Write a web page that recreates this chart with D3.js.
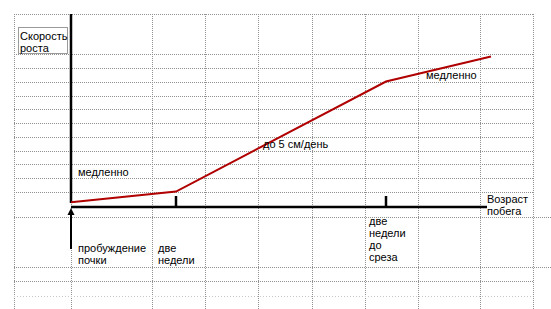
<!DOCTYPE html>
<html>
<head>
<meta charset="utf-8">
<script src="https://cdn.jsdelivr.net/npm/d3@7"></script>
<style>
  body { margin: 0; background: #fff; }
  svg { display: block; }
  text { font-family: Arial, "Liberation Sans", sans-serif; font-size: 11px; fill: #000; }
</style>
</head>
<body>
<svg id="chart" width="551" height="309"></svg>
<script>
// shoot age in weeks, growth rate (arbitrary units)
const weeks = [0, 2, 6, 8];
const growthRate = [0.25, 0.8, 6.5, 7.8];
const tickWeeks = [2, 6];
const tickLabels = [
  ["пробуждение", "почки"],
  ["две", "недели"],
  ["две", "недели", "до", "среза"],
];
const labelWeeks = [0, 2, 6];

// spreadsheet cell edges behind the sketch
const colEdges = [14, 71, 152, 205, 258, 312, 365, 418, 480, 533];
const rowEdges = [14, 54, 68, 82, 96, 109, 123, 137, 151, 164, 178, 192, 217, 267, 281];
const wideRows = [217, 267];

const svg = d3.select("#chart");

const x = d3.scaleLinear().domain([0, 8]).range([71, 491]);
const y = d3.scaleLinear().domain([0, 10]).range([207, 14]);

const grid = svg.append("g").attr("class", "grid");

grid
  .selectAll("line.col")
  .data(colEdges)
  .join("line")
  .attr("class", "col")
  .attr("x1", (d) => d)
  .attr("x2", (d) => d)
  .attr("y1", 14)
  .attr("y2", 309)
  .attr("stroke", "#909090")
  .attr("stroke-dasharray", "1,1")
  .attr("shape-rendering", "crispEdges");

grid
  .selectAll("line.row")
  .data(rowEdges)
  .join("line")
  .attr("class", "row")
  .attr("x1", 14)
  .attr("x2", (d) => (wideRows.includes(d) ? 551 : 533))
  .attr("y1", (d) => d + 0.5)
  .attr("y2", (d) => d + 0.5)
  .attr("stroke", "#909090")
  .attr("stroke-dasharray", "1,1")
  .attr("shape-rendering", "crispEdges");

// faint half-drawn row near the bottom
grid
  .append("line")
  .attr("x1", 14)
  .attr("x2", 533)
  .attr("y1", 296.5)
  .attr("y2", 296.5)
  .attr("stroke", "#c8c8c8")
  .attr("stroke-dasharray", "1,2")
  .attr("shape-rendering", "crispEdges");

// y axis
svg
  .append("line")
  .attr("x1", x(0))
  .attr("x2", x(0))
  .attr("y1", 14)
  .attr("y2", 203)
  .attr("stroke", "#000")
  .attr("stroke-width", 2.5);

// x axis
svg
  .append("line")
  .attr("x1", x(0))
  .attr("x2", 487)
  .attr("y1", y(0))
  .attr("y2", y(0))
  .attr("stroke", "#000")
  .attr("stroke-width", 2.5);

// arrow pointing at the origin
svg
  .append("line")
  .attr("x1", x(0))
  .attr("x2", x(0))
  .attr("y1", 249)
  .attr("y2", 212)
  .attr("stroke", "#000")
  .attr("stroke-width", 2);

svg
  .append("path")
  .attr("d", `M${x(0)},${y(0) + 1}L${x(0) - 3.5},${y(0) + 8}L${x(0) + 3.5},${y(0) + 8}Z`)
  .attr("fill", "#000");

svg
  .selectAll("line.tick")
  .data(tickWeeks)
  .join("line")
  .attr("class", "tick")
  .attr("x1", (d) => x(d))
  .attr("x2", (d) => x(d))
  .attr("y1", y(0) - 11)
  .attr("y2", y(0))
  .attr("stroke", "#000")
  .attr("stroke-width", 2.5);

const line = d3
  .line()
  .x((d, i) => x(weeks[i]))
  .y((d) => y(d));

svg
  .append("path")
  .datum(growthRate)
  .attr("d", line)
  .attr("fill", "none")
  .attr("stroke", "#b00000")
  .attr("stroke-width", 2);

// y axis title box
svg
  .append("rect")
  .attr("x", 18.5)
  .attr("y", 27.5)
  .attr("width", 49)
  .attr("height", 26)
  .attr("fill", "#fff")
  .attr("stroke", "#9a9a9a");

const yTitle = svg.append("text").attr("x", 20).attr("y", 40);
yTitle.append("tspan").text("Скорость");
yTitle.append("tspan").attr("x", 20).attr("dy", 12).text("роста");

const xTitle = svg.append("text").attr("x", 487).attr("y", 203);
xTitle.append("tspan").text("Возраст");
xTitle.append("tspan").attr("x", 487).attr("dy", 12).text("побега");

svg.append("text").attr("x", x(0) + 7).attr("y", 176).text("медленно");
svg.append("text").attr("x", 263).attr("y", 148).text("до 5 см/день");
svg.append("text").attr("x", 426).attr("y", 79).text("медленно");

const labelOffset = [7, -18, -17];
const labelTop = [252, 252, 225];

svg
  .selectAll("text.cat")
  .data(tickLabels)
  .join("text")
  .attr("class", "cat")
  .attr("x", (d, i) => x(labelWeeks[i]) + labelOffset[i])
  .attr("y", (d, i) => labelTop[i])
  .each(function (lines, i) {
    d3.select(this)
      .selectAll("tspan")
      .data(lines)
      .join("tspan")
      .attr("x", x(labelWeeks[i]) + labelOffset[i])
      .attr("dy", (d, j) => (j === 0 ? 0 : 12))
      .text((d) => d);
  });
</script>
</body>
</html>
